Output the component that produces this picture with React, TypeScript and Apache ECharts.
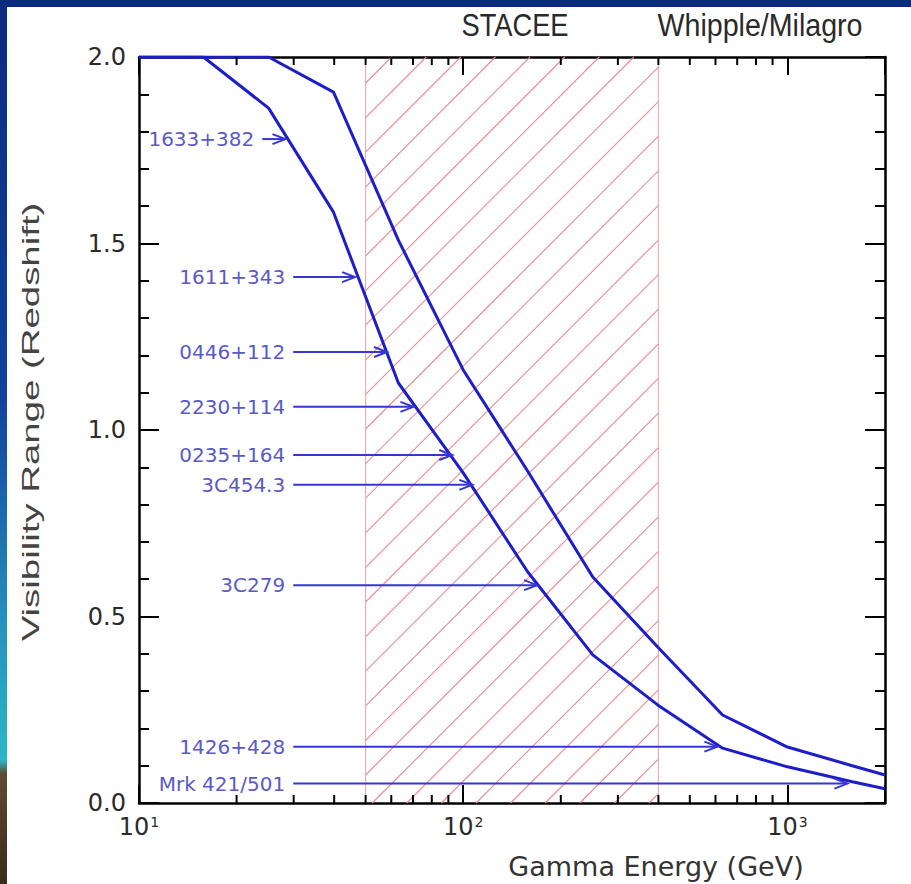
import React, { useEffect, useRef } from "react";
import * as echarts from "echarts";

// ---- data ----
const ENERGY = [10, 15.8, 25.1, 39.8, 63.1, 100, 158, 251, 398, 631, 1000, 1585, 2000];
const UPPER_Z = [2.0, 2.0, 2.0, 1.906, 1.509, 1.161, 0.89, 0.606, 0.418, 0.236, 0.15, 0.1, 0.075];
const LOWER_Z = [2.0, 2.0, 1.863, 1.584, 1.126, 0.885, 0.62, 0.397, 0.263, 0.147, 0.097, 0.057, 0.038];

const SOURCE_NAMES = ["1633+382", "1611+343", "0446+112", "2230+114", "0235+164", "3C454.3", "3C279", "1426+428", "Mrk 421/501"];
const SOURCE_Z = [1.78, 1.41, 1.209, 1.062, 0.933, 0.853, 0.584, 0.151, 0.052];
const ARROW_START_E = [24.0, 29.9, 29.9, 29.9, 29.9, 29.9, 29.9, 29.9, 29.9];
const ARROW_END_E = [28.3, 46.4, 58.2, 70.2, 92.5, 106.7, 169, 608, 1531];

const STACEE_RANGE = [50, 400];
const X_MIN = 10;
const X_MAX = 2000;
const Y_MIN = 0;
const Y_MAX = 2;
const X_MINOR_TICKS = [20, 30, 40, 50, 60, 70, 80, 90, 200, 300, 400, 500, 600, 700, 800, 900];

const CURVE_COLOR = "#1e1ec8";
const ARROW_COLOR = "#3636d6";
const LABEL_COLOR = "#5a5ac6";
const HATCH_COLOR = "#e98a92";
const EDGE_COLOR = "#eba2a8";
const FRAME = "#000";

export default function App() {
  const ref = useRef<HTMLDivElement>(null);

  useEffect(() => {
    if (!ref.current) return;
    const chart = echarts.init(ref.current, null, { renderer: "svg" });

    const axisLine = { show: true, onZero: false, lineStyle: { color: FRAME, width: 2.5 } };
    const center = { align: "center", textAlign: "center", verticalAlign: "middle", textVerticalAlign: "middle" };

    const option: any = {
      animation: false,
      backgroundColor: "#ffffff",
      textStyle: { fontFamily: "DejaVu Sans" },
      grid: { left: 139, right: 26, top: 57, bottom: 81, containLabel: false },
      graphic: [
        { type: "rect", left: 0, top: 0, z: 100, shape: { width: 911, height: 7 }, style: { fill: "#0b2b7e" } },
        {
          type: "rect", left: 0, top: 0, z: 100,
          shape: { width: 7, height: 884 },
          style: {
            fill: new echarts.graphic.LinearGradient(0, 0, 0, 1, [
              { offset: 0, color: "#0b2b7e" },
              { offset: 0.45, color: "#12409a" },
              { offset: 0.7, color: "#2590bc" },
              { offset: 0.86, color: "#2cb6c6" },
              { offset: 0.875, color: "#5e4c32" },
              { offset: 1, color: "#3a2c1a" },
            ]),
          },
        },
        {
          type: "text", x: 515, y: 25, z: 100, scaleX: 1.05, scaleY: 1.2,
          style: { text: "STACEE", fill: "#2a2a2a", fontSize: 26, fontFamily: "Liberation Sans", ...center },
        },
        {
          type: "text", x: 760, y: 25, z: 100, scaleX: 1.1, scaleY: 1.2,
          style: { text: "Whipple/Milagro", fill: "#2a2a2a", fontSize: 26, fontFamily: "Liberation Sans", ...center },
        },
        {
          type: "text", x: 656, y: 866, z: 100,
          style: { text: "Gamma Energy (GeV)", fill: "#333", fontSize: 27, fontFamily: "DejaVu Sans", ...center },
        },
        {
          type: "text", x: 31, y: 422, z: 100, rotation: Math.PI / 2, scaleX: 1.6, scaleY: 1,
          style: { text: "Visibility Range (Redshift)", fill: "#444", fontSize: 24, fontFamily: "Liberation Sans", ...center },
        },
      ],
      xAxis: [
        {
          type: "log", logBase: 10, min: X_MIN, max: X_MAX, position: "bottom",
          axisLine,
          axisTick: { show: true, inside: true, length: 18, lineStyle: { color: FRAME, width: 2 } },
          splitLine: { show: false },
          axisLabel: {
            margin: 12,
            color: "#2a2a2a",
            fontSize: 24,
            fontFamily: "DejaVu Sans",
            formatter: (v: number) => {
              const l = Math.log10(v);
              const r = Math.round(l);
              if (Math.abs(l - r) > 1e-6) return "";
              return "10{s|" + r + "}";
            },
            rich: { s: { fontSize: 14, fontFamily: "DejaVu Sans", color: "#2a2a2a", verticalAlign: "top", padding: [0, 0, 10, 1] } },
          },
        },
        {
          type: "log", logBase: 10, min: X_MIN, max: X_MAX, position: "top",
          axisLine,
          axisTick: { show: true, inside: true, length: 18, lineStyle: { color: FRAME, width: 2 } },
          splitLine: { show: false },
          axisLabel: { show: false },
        },
      ],
      yAxis: [
        {
          type: "value", min: Y_MIN, max: Y_MAX, interval: 0.5, position: "left",
          axisLine,
          axisTick: { show: true, inside: true, length: 20, lineStyle: { color: FRAME, width: 2 } },
          minorTick: { show: true, splitNumber: 5, length: 10, lineStyle: { color: FRAME, width: 2 } },
          splitLine: { show: false },
          axisLabel: { margin: 13, color: "#2a2a2a", fontSize: 24, fontFamily: "DejaVu Sans", formatter: (v: number) => v.toFixed(1) },
        },
        {
          type: "value", min: Y_MIN, max: Y_MAX, interval: 0.5, position: "right",
          axisLine,
          axisTick: { show: true, inside: true, length: 20, lineStyle: { color: FRAME, width: 2 } },
          minorTick: { show: true, splitNumber: 5, length: 10, lineStyle: { color: FRAME, width: 2 } },
          splitLine: { show: false },
          axisLabel: { show: false },
        },
      ],
      series: [
        {
          type: "custom",
          name: "STACEE band",
          xAxisIndex: 0, yAxisIndex: 0, z: 1,
          silent: true,
          data: [[STACEE_RANGE[0], STACEE_RANGE[1]]],
          encode: { x: [0, 1] },
          renderItem: (params: any, api: any) => {
            const tl = api.coord([api.value(0), Y_MAX]);
            const br = api.coord([api.value(1), Y_MIN]);
            const L = tl[0], T = tl[1], R = br[0], B = br[1];
            const s = 34.6;
            const c0 = L + T + 26;
            const children: any[] = [];
            const kMin = Math.ceil((L + T - c0) / s);
            const kMax = Math.floor((R + B - c0) / s);
            for (let k = kMin; k <= kMax; k++) {
              const c = c0 + k * s;
              const xa = Math.max(L, c - B);
              const xb = Math.min(R, c - T);
              if (xb - xa < 0.5) continue;
              children.push({
                type: "polyline",
                shape: { points: [[xa, c - xa], [xb, c - xb]] },
                style: { stroke: HATCH_COLOR, lineWidth: 1.1, fill: null },
              });
            }
            children.push({ type: "polyline", shape: { points: [[L, T], [L, B]] }, style: { stroke: EDGE_COLOR, lineWidth: 1, fill: null } });
            children.push({ type: "polyline", shape: { points: [[R, T], [R, B]] }, style: { stroke: EDGE_COLOR, lineWidth: 1, fill: null } });
            return { type: "group", children };
          },
        },
        {
          type: "custom",
          name: "minor x ticks",
          xAxisIndex: 0, yAxisIndex: 0, z: 5,
          silent: true,
          data: X_MINOR_TICKS.map((v) => [v]),
          encode: { x: 0 },
          renderItem: (params: any, api: any) => {
            const v = api.value(0);
            const b = api.coord([v, Y_MIN]);
            const t = api.coord([v, Y_MAX]);
            return {
              type: "group",
              children: [
                { type: "line", shape: { x1: b[0], y1: b[1], x2: b[0], y2: b[1] - 8 }, style: { stroke: FRAME, lineWidth: 2 } },
                { type: "line", shape: { x1: t[0], y1: t[1], x2: t[0], y2: t[1] + 8 }, style: { stroke: FRAME, lineWidth: 2 } },
              ],
            };
          },
        },
        {
          type: "line",
          name: "upper",
          xAxisIndex: 0, yAxisIndex: 0, z: 4,
          data: ENERGY.map((e, i) => [e, UPPER_Z[i]]),
          symbol: "none",
          lineStyle: { color: CURVE_COLOR, width: 3 },
        },
        {
          type: "line",
          name: "lower",
          xAxisIndex: 0, yAxisIndex: 0, z: 4,
          data: ENERGY.map((e, i) => [e, LOWER_Z[i]]),
          symbol: "none",
          lineStyle: { color: CURVE_COLOR, width: 3 },
        },
        {
          type: "custom",
          name: "sources",
          xAxisIndex: 0, yAxisIndex: 0, z: 6,
          silent: true,
          data: SOURCE_NAMES.map((n, i) => [ARROW_START_E[i], ARROW_END_E[i], SOURCE_Z[i], i]),
          encode: { x: [0, 1], y: 2 },
          renderItem: (params: any, api: any) => {
            const s = api.coord([api.value(0), api.value(2)]);
            const e = api.coord([api.value(1), api.value(2)]);
            const idx = api.value(3);
            return {
              type: "group",
              children: [
                { type: "line", shape: { x1: s[0], y1: s[1], x2: e[0], y2: e[1] }, style: { stroke: ARROW_COLOR, lineWidth: 2 } },
                { type: "polyline", shape: { points: [[e[0] - 13, e[1] - 5], [e[0], e[1]], [e[0] - 13, e[1] + 5]] }, style: { stroke: ARROW_COLOR, lineWidth: 2, fill: null } },
                {
                  type: "text", x: s[0] - 8, y: s[1],
                  style: { text: SOURCE_NAMES[idx], fill: LABEL_COLOR, fontSize: 20, fontFamily: "DejaVu Sans", align: "right", textAlign: "right", verticalAlign: "middle", textVerticalAlign: "middle" },
                },
              ],
            };
          },
        },
      ],
    };

    chart.setOption(option);
    return () => chart.dispose();
  }, []);

  return (
    <div
      ref={ref}
      style={{ position: "fixed", left: 0, top: 0, width: 911, height: 884, background: "#fff" }}
    />
  );
}
